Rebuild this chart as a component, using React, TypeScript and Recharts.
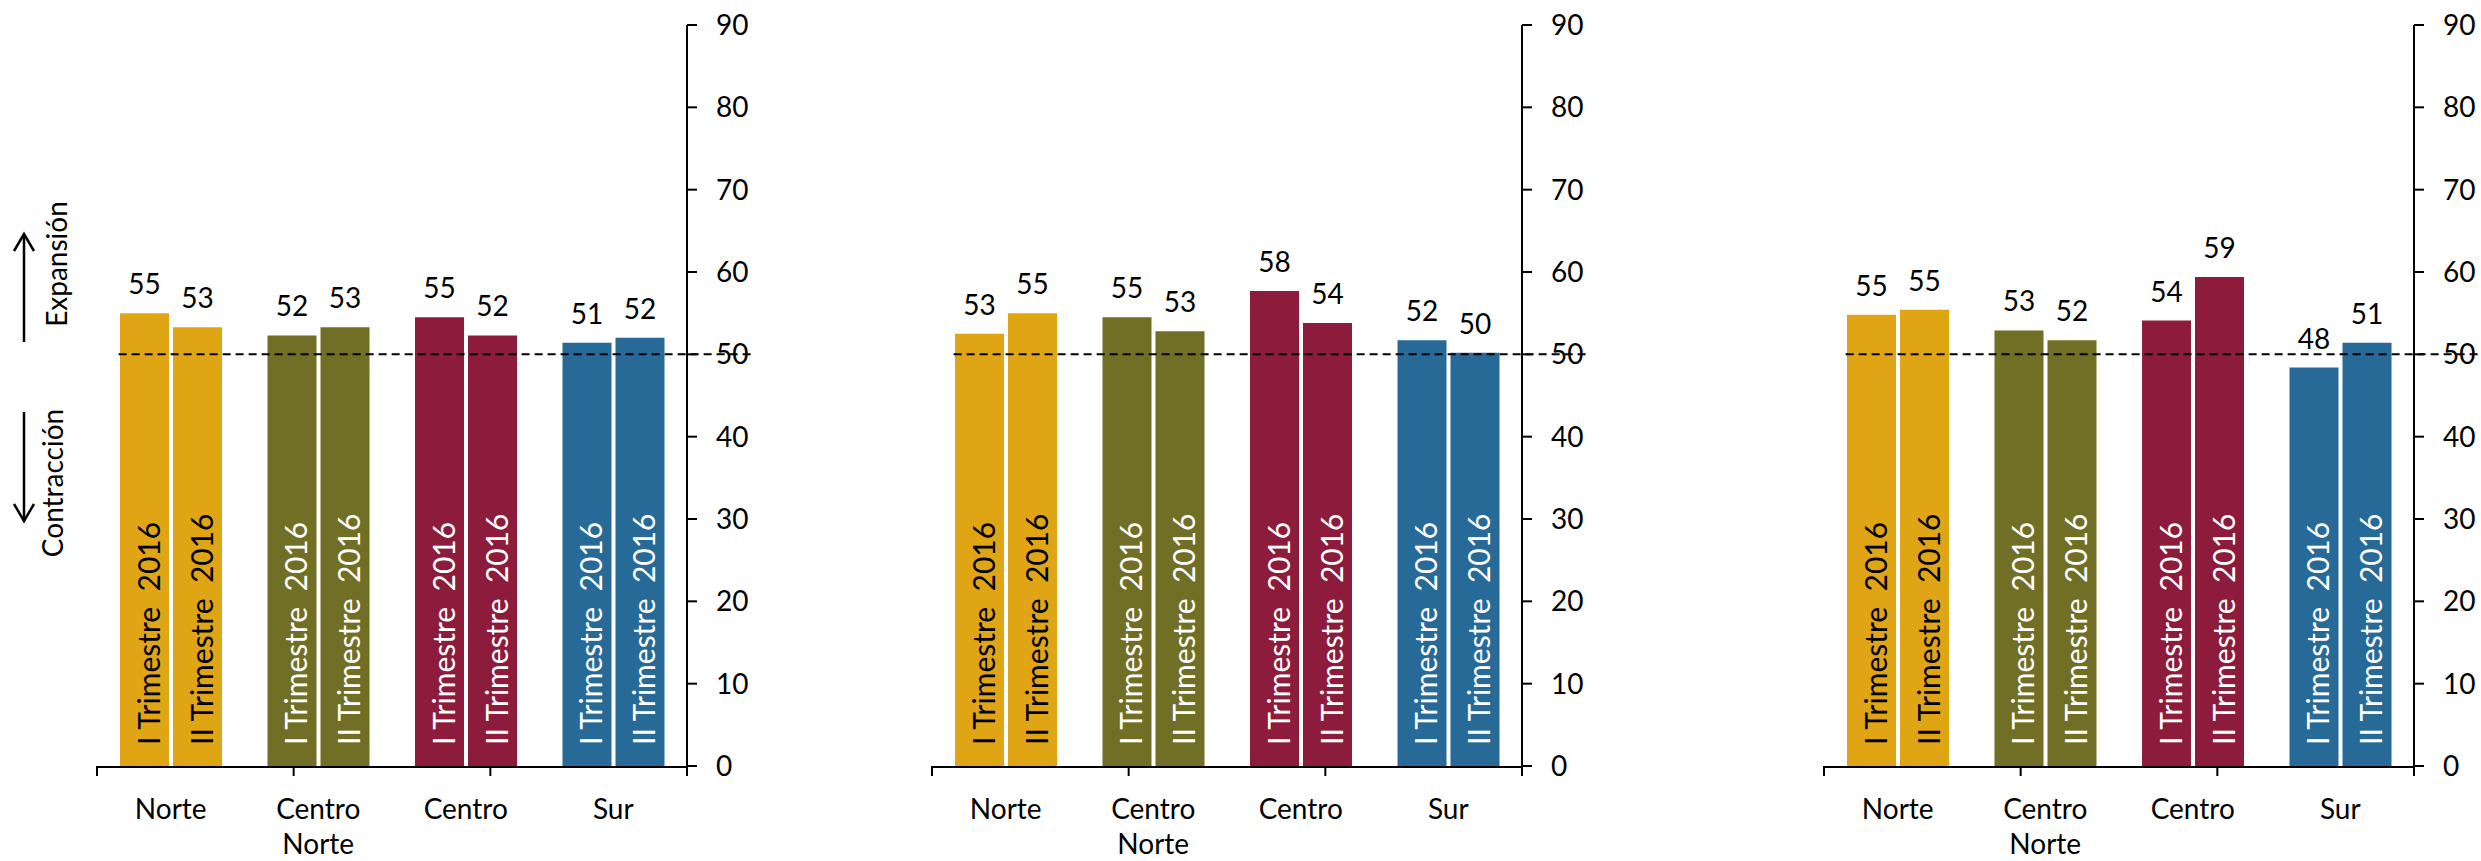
import React from 'react';
import { BarChart, Bar, XAxis, YAxis, ReferenceLine, Cell, LabelList } from 'recharts';

const categories = ['Norte', 'Centro Norte', 'Centro', 'Sur'];

const panel1Q1 = [55.0, 52.3, 54.5, 51.4];
const panel1Q2 = [53.3, 53.3, 52.3, 52.0];
const panel2Q1 = [52.5, 54.5, 57.7, 51.7];
const panel2Q2 = [55.0, 52.8, 53.8, 50.2];
const panel3Q1 = [54.8, 52.9, 54.1, 48.4];
const panel3Q2 = [55.4, 51.7, 59.4, 51.4];

const seriesLabels = ['I Trimestre  2016', 'II Trimestre  2016'];
const regionColors = ['#DFA515', '#716F25', '#8D1B3B', '#276A98'];
const insideTextColors = ['#000000', '#FFFFFF', '#FFFFFF', '#FFFFFF'];
const yTicks = [0, 10, 20, 30, 40, 50, 60, 70, 80, 90];
const boundaryTicks = [0, 1, 2, 3, 4];
const threshold = 50;

const FONT = 'Lato, "Open Sans", sans-serif';
const FS = 28;
const FS_IN = 30;

const CatTick = (props: any) => {
  const { x, y, payload } = props;
  const words = String(payload.value).split(' ');
  return (
    <text x={x} y={y} textAnchor="middle" fill="#000" fontSize={FS} fontFamily={FONT}>
      {words.map((w, i) => (
        <tspan key={i} x={x} dy={i === 0 ? 52 : 35}>
          {w}
        </tspan>
      ))}
    </text>
  );
};

const EmptyTick = () => <g />;

const makeInside = (text: string) => (props: any) => {
  const { x, y, width, height, index } = props;
  const bx = Number(x) + Number(width) / 2 + 15;
  const by = Number(y) + Number(height) - 21;
  return (
    <text
      x={bx}
      y={by}
      transform={`rotate(-90, ${bx}, ${by})`}
      fill={insideTextColors[index]}
      fontSize={FS_IN}
      fontFamily={FONT}
      textAnchor="start"
      style={{ whiteSpace: 'pre' }}
    >
      {text}
    </text>
  );
};

function Panel({ q1, q2, left }: { q1: number[]; q2: number[]; left: number }) {
  const data = categories.map((c, i) => ({ cat: c, q1: q1[i], q2: q2[i] }));
  return (
    <div style={{ position: 'absolute', left, top: 0 }}>
      <BarChart
        width={755}
        height={861}
        data={data}
        margin={{ top: 25, right: 0, bottom: 93, left: 97 }}
        barGap={4}
        barSize={49}
      >
        <XAxis
          xAxisId="c"
          dataKey="cat"
          type="category"
          height={1}
          tickSize={0}
          tickMargin={0}
          tickLine={false}
          axisLine={{ stroke: '#000', strokeWidth: 2 }}
          tick={<CatTick />}
          interval={0}
        />
        <XAxis
          xAxisId="b"
          type="number"
          domain={[0, 4]}
          ticks={boundaryTicks}
          tick={<EmptyTick />}
          tickSize={10}
          height={1}
          axisLine={false}
          tickLine={{ stroke: '#000', strokeWidth: 2 }}
          interval={0}
          allowDataOverflow
        />
        <YAxis
          yAxisId="y"
          orientation="right"
          domain={[0, 90]}
          ticks={yTicks}
          width={68}
          tickSize={10}
          tickMargin={19}
          axisLine={{ stroke: '#000', strokeWidth: 2 }}
          tickLine={{ stroke: '#000', strokeWidth: 2 }}
          tick={{ fill: '#000', fontSize: FS, fontFamily: FONT }}
          interval={0}
        />
        <Bar xAxisId="c" yAxisId="y" dataKey="q1" isAnimationActive={false}>
          {data.map((d, i) => (
            <Cell key={i} fill={regionColors[i]} />
          ))}
          <LabelList
            dataKey="q1"
            position="top"
            offset={19}
            formatter={(v: any) => Math.round(Number(v))}
            style={{ fill: '#000', fontSize: FS, fontFamily: FONT }}
          />
          <LabelList dataKey="q1" content={makeInside(seriesLabels[0])} />
        </Bar>
        <Bar xAxisId="c" yAxisId="y" dataKey="q2" isAnimationActive={false}>
          {data.map((d, i) => (
            <Cell key={i} fill={regionColors[i]} />
          ))}
          <LabelList
            dataKey="q2"
            position="top"
            offset={19}
            formatter={(v: any) => Math.round(Number(v))}
            style={{ fill: '#000', fontSize: FS, fontFamily: FONT }}
          />
          <LabelList dataKey="q2" content={makeInside(seriesLabels[1])} />
        </Bar>
        <ReferenceLine
          xAxisId="b"
          yAxisId="y"
          segment={[
            { x: 0.11, y: threshold },
            { x: 4, y: threshold },
          ]}
          stroke="#000"
          strokeWidth={2}
          strokeDasharray="8 5"
          ifOverflow="visible"
        />
      </BarChart>
    </div>
  );
}

function Annotation() {
  return (
    <svg width={100} height={861} style={{ position: 'absolute', left: 0, top: 0 }}>
      <g stroke="#000" strokeWidth={2.5} fill="none">
        <line x1={24} y1={234} x2={24} y2={342} />
        <polyline points="14,251 24,234 34,251" />
        <line x1={24} y1={412} x2={24} y2={521} />
        <polyline points="14,504 24,521 34,504" />
      </g>
      <text
        x={67}
        y={264}
        transform="rotate(-90, 67, 264)"
        textAnchor="middle"
        fontSize={FS}
        fontFamily={FONT}
        fill="#000"
      >
        Expansión
      </text>
      <text
        x={63}
        y={483}
        transform="rotate(-90, 63, 483)"
        textAnchor="middle"
        fontSize={FS}
        fontFamily={FONT}
        fill="#000"
      >
        Contracción
      </text>
    </svg>
  );
}

export default function App() {
  return (
    <div
      style={{
        position: 'absolute',
        left: 0,
        top: 0,
        width: 2481,
        height: 861,
        overflow: 'hidden',
        background: '#fff',
      }}
    >
      <Panel q1={panel1Q1} q2={panel1Q2} left={0} />
      <Panel q1={panel2Q1} q2={panel2Q2} left={835} />
      <Panel q1={panel3Q1} q2={panel3Q2} left={1727} />
      <Annotation />
    </div>
  );
}
